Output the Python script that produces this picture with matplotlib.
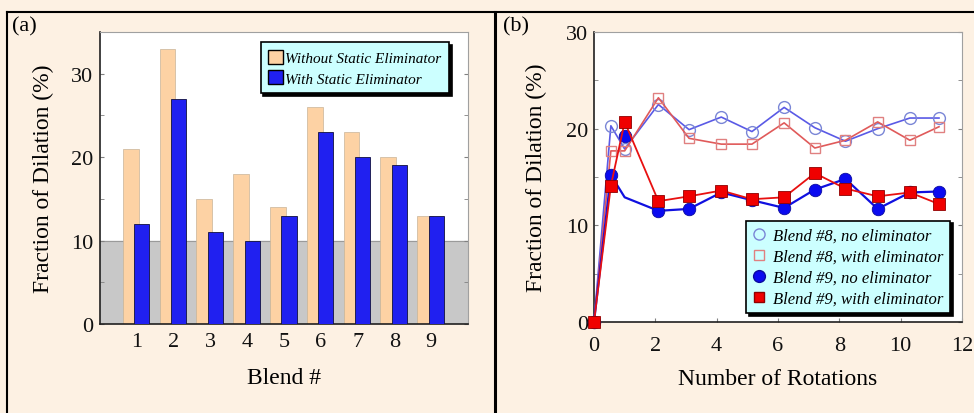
import numpy as np
import matplotlib
matplotlib.use('Agg')
import matplotlib.pyplot as plt
from matplotlib.lines import Line2D
from matplotlib.patches import Patch

plt.rcParams['font.family'] = ['Liberation Serif', 'DejaVu Serif']

# panel (a): fraction of dilation per blend
blends = [1, 2, 3, 4, 5, 6, 7, 8, 9]
without_elim = [21, 33, 15, 18, 14, 26, 23, 20, 13]
with_elim = [12, 27, 11, 10, 13, 23, 20, 19, 13]

# panel (b): fraction of dilation vs number of rotations
rotations = [0, 0.55, 1.0, 2.1, 3.1, 4.15, 5.15, 6.2, 7.2, 8.2, 9.25, 10.3, 11.25]
b8_no = [0, 20.3, 17.9, 22.5, 19.9, 21.2, 19.7, 22.2, 20.1, 18.7, 20.0, 21.1, 21.1]
b8_with = [0, 17.7, 17.7, 23.2, 19.0, 18.4, 18.4, 20.6, 18.0, 18.8, 20.7, 18.8, 20.2]
b9_no_line = [0, 15.2, 12.9, 11.5, 11.7, 13.4, 12.6, 11.8, 13.7, 14.8, 11.7, 13.4, 13.5]
b9_no = [0, 15.2, 19.2, 11.5, 11.7, 13.4, 12.6, 11.8, 13.7, 14.8, 11.7, 13.4, 13.5]
b9_with = [0, 14.1, 20.7, 12.5, 13.0, 13.6, 12.7, 12.9, 15.4, 13.8, 13.0, 13.4, 12.2]

cream = '#FDF1E3'
peach = '#FDD2A4'
blue = '#2020F0'

fig = plt.figure(figsize=(9.74, 4.14), dpi=100, facecolor=cream)

# frame lines around panels
W, H = 974.0, 414.0
fig.add_artist(Line2D([7/W, 1], [1-13/H, 1-13/H], color='k', lw=1.5, transform=fig.transFigure))
fig.add_artist(Line2D([7/W, 7/W], [0, 1-13/H], color='k', lw=1.5, transform=fig.transFigure))
fig.add_artist(Line2D([495/W, 495/W], [0, 1-13/H], color='k', lw=2.2, transform=fig.transFigure))

fig.text(12/W, 1-27/H, '(a)', fontsize=16, va='center', ha='left')
fig.text(503/W, 1-27/H, '(b)', fontsize=16, va='center', ha='left')


def style_axes(ax):
	ax.set_facecolor('white')
	for s in ['top', 'right']:
		ax.spines[s].set_color('#A0A0A0')
	for s in ['left', 'bottom']:
		ax.spines[s].set_color('#202020')
		ax.spines[s].set_linewidth(1.2)
	ax.tick_params(which='both', direction='in', colors='#808080', labelcolor='#111111',
				   labelsize=16, right=True, length=3)


# ---------- panel (a) ----------
ax1 = fig.add_axes([100/W, 1-325/H, 368/W, 292/H])
style_axes(ax1)
ax1.axhspan(0, 10, color='#C8C8C8', zorder=0)
ax1.axhline(10, color='#9A9A9A', lw=0.8, zorder=0.5)
x = np.array(blends)
ax1.bar(x - 0.165, without_elim, width=0.43, color=peach, edgecolor='#C8B498', lw=0.5, zorder=2)
ax1.bar(x + 0.135, with_elim, width=0.41, color=blue, edgecolor='#101040', lw=0.6, zorder=3)
ax1.set_xlim(0, 10)
ax1.set_ylim(0, 35)
ax1.set_xticks(blends)
ax1.set_yticks([0, 10, 20, 30])
ax1.set_yticks([5, 15, 25], minor=True)
ax1.tick_params(axis='x', length=0, pad=6)
ax1.tick_params(axis='y', pad=5)
ax1.set_xlabel('Blend #', fontsize=17)
ax1.set_ylabel('Fraction of Dilation (%)', fontsize=17)
ax1.yaxis.set_label_coords(-0.125, 0.5)
ax1.xaxis.set_label_coords(0.5, -0.148)
handles1 = [Patch(facecolor=peach, edgecolor='k', lw=1), Patch(facecolor=blue, edgecolor='k', lw=1)]
leg1 = ax1.legend(handles1, ['Without Static Eliminator', 'With Static Eliminator'],
				  loc='upper right', bbox_to_anchor=(0.948, 0.966), fancybox=False,
				  framealpha=1, facecolor='#CCFFFF', edgecolor='k',
				  shadow={'color': 'k', 'alpha': 1}, prop={'style': 'italic', 'size': 11},
				  handlelength=0.95, handleheight=1.05, handletextpad=0.15, borderpad=0.5,
				  labelspacing=0.35, borderaxespad=0)
leg1.get_frame().set_linewidth(1.2)
leg1.set_zorder(10)

# ---------- panel (b) ----------
ax2 = fig.add_axes([594/W, 1-323/H, 368/W, 290/H])
style_axes(ax2)
ax2.plot(rotations, b8_no, color='#5A5AE6', lw=1.2, marker='o', ms=8.5,
		 mfc='none', mec='#7A86D6', mew=1.0, clip_on=False, zorder=3)
ax2.plot(rotations, b8_with, color='#E05A5A', lw=1.2, marker='s', ms=7.5,
		 mfc='none', mec='#E08080', mew=1.0, clip_on=False, zorder=3)
ax2.plot(rotations, b9_no_line, color='#1010E0', lw=1.6, clip_on=False, zorder=4)
ax2.plot(rotations, b9_no, ls='none', marker='o', ms=9, mfc='#0A0AF0',
		 mec='#0A0AA0', mew=0.6, clip_on=False, zorder=4)
ax2.plot(rotations, b9_with, color='#E81010', lw=1.3, marker='s', ms=8,
		 mfc='#F00000', mec='#900000', mew=0.6, clip_on=False, zorder=5)
ax2.set_xlim(0, 12)
ax2.set_ylim(0, 30)
ax2.set_xticks([0, 2, 4, 6, 8, 10, 12])
ax2.set_yticks([0, 10, 20, 30])
ax2.set_yticks([5, 15, 25], minor=True)
ax2.tick_params(axis='x', pad=10)
ax2.tick_params(axis='y', pad=4)
ax2.set_xlabel('Number of Rotations', fontsize=17)
ax2.set_ylabel('Fraction of Dilation (%)', fontsize=17)
ax2.yaxis.set_label_coords(-0.128, 0.5)
ax2.xaxis.set_label_coords(0.5, -0.16)
handles2 = [
	Line2D([], [], ls='none', marker='o', ms=8, mfc='none', mec='#7A86D6'),
	Line2D([], [], ls='none', marker='s', ms=7, mfc='none', mec='#E08080'),
	Line2D([], [], ls='none', marker='o', ms=8.5, mfc='#0A0AF0', mec='#0A0AA0'),
	Line2D([], [], ls='none', marker='s', ms=7, mfc='#F00000', mec='#900000'),
]
labels2 = ['Blend #8, no eliminator', 'Blend #8, with eliminator',
		   'Blend #9, no eliminator', 'Blend #9, with eliminator']
leg2 = ax2.legend(handles2, labels2, loc='lower right', bbox_to_anchor=(0.967, 0.031),
				  fancybox=False, framealpha=1, facecolor='#CCFFFF', edgecolor='k',
				  shadow={'color': 'k', 'alpha': 1}, prop={'style': 'italic', 'size': 12},
				  handlelength=0.8, handletextpad=0.4, borderpad=0.4,
				  labelspacing=0.3, borderaxespad=0)
leg2.get_frame().set_linewidth(1.2)
leg2.set_zorder(10)

fig.savefig('out.png', dpi=100, facecolor=cream)
